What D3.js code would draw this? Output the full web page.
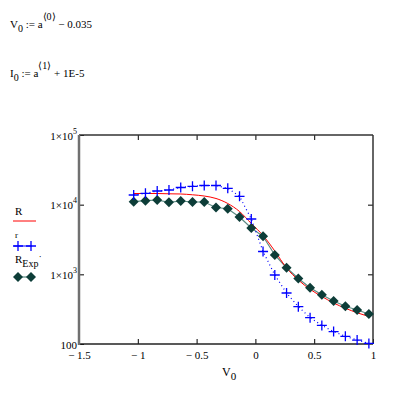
<!DOCTYPE html>
<html>
<head>
<meta charset="utf-8">
<script src="https://cdn.jsdelivr.net/npm/d3@7"></script>
<style>
  body { margin: 0; background: #fff; }
  svg text { font-family: "Liberation Serif", "Times New Roman", serif; fill: #000; }
</style>
</head>
<body>
<div id="chart"></div>
<script>
// V0 = a<0> - 0.035, a from -1 to 1 step 0.1
var vValues = [-1.035, -0.935, -0.835, -0.735, -0.635, -0.535, -0.435, -0.335, -0.235, -0.135,
               -0.035, 0.065, 0.165, 0.265, 0.365, 0.465, 0.565, 0.665, 0.765, 0.865, 0.965];
// model R (red line)
var rModel = [14460, 14460, 14460, 14320, 14230, 13860, 13310, 12270, 10400, 7980,
              5370, 3610, 2163, 1233, 830, 610, 481, 388, 326, 281, 248];
// r (blue crosses)
var rSmall = [13770, 14560, 15710, 16230, 17640, 18350, 18850, 18850, 17180, 13180,
              6230, 2128, 978, 540, 343, 239, 185, 151, 129, 114, 102];
// R_Exp' (diamonds)
var rExp = [11040, 11400, 11670, 10810, 11290, 10920, 10920, 9100, 8750, 6650,
            4625, 3515, 1895, 1245, 871, 643, 510, 414, 348, 308, 270];

var xTicks = [-1.5, -1, -0.5, 0, 0.5, 1];
var xTickLabels = ["\u2212 1.5", "\u2212 1", "\u2212 0.5", "0", "0.5", "1"];
var yTicks = [100, 1000, 10000, 100000];
var yTickLabels = [["100", ""], ["1\u00d710", "3"], ["1\u00d710", "4"], ["1\u00d710", "5"]];

var width = 400, height = 394;
var plot = {left: 79, right: 373, top: 135, bottom: 344};

var svg = d3.select("#chart").append("svg")
  .attr("width", width)
  .attr("height", height);

var x = d3.scaleLinear().domain([-1.5, 1]).range([plot.left, plot.right]);
var y = d3.scaleLog().domain([100, 100000]).range([plot.bottom, plot.top]);

// formulas at top
var f1 = svg.append("text").attr("x", 10).attr("y", 28).style("font-size", "11px");
f1.append("tspan").text("V");
f1.append("tspan").attr("dy", 4).style("font-size", "10px").text("0");
f1.append("tspan").attr("dy", -4).text(" := a");
f1.append("tspan").attr("dy", -8).style("font-size", "10px").text("\u27e80\u27e9");
f1.append("tspan").attr("dy", 8).text(" \u2212 0.035");

var f2 = svg.append("text").attr("x", 10).attr("y", 77).style("font-size", "11px");
f2.append("tspan").text("I");
f2.append("tspan").attr("dy", 4).style("font-size", "10px").text("0");
f2.append("tspan").attr("dy", -4).text(" := a");
f2.append("tspan").attr("dy", -8).style("font-size", "10px").text("\u27e81\u27e9");
f2.append("tspan").attr("dy", 8).text(" + 1E-5");

// axes
var xAxis = d3.axisBottom(x).tickValues(xTicks)
  .tickSizeInner(-5).tickSizeOuter(0).tickPadding(7)
  .tickFormat(function(d, i) { return xTickLabels[i]; });
var gx = svg.append("g")
  .attr("transform", "translate(0," + plot.bottom + ")")
  .call(xAxis);
gx.select(".domain").remove();
gx.selectAll("text").style("font-size", "11px").style("font-family", "Liberation Serif");

var xTop = d3.axisTop(x).tickValues(xTicks.slice(1, -1))
  .tickSizeInner(-5).tickSizeOuter(0).tickFormat("");
var gxt = svg.append("g").attr("transform", "translate(0," + plot.top + ")").call(xTop);
gxt.select(".domain").remove();

var yAxis = d3.axisLeft(y).tickValues(yTicks)
  .tickSizeInner(-5).tickSizeOuter(0).tickPadding(3)
  .tickFormat("");
var gy = svg.append("g").attr("transform", "translate(" + plot.left + ",0)").call(yAxis);
gy.select(".domain").remove();
gy.selectAll(".tick").each(function(d, i) {
  var t = d3.select(this).append("text")
    .attr("x", -2).attr("y", 4)
    .attr("text-anchor", "end")
    .style("font-size", "11px");
  t.append("tspan").text(yTickLabels[i][0]);
  if (yTickLabels[i][1]) t.append("tspan").attr("dy", -6).style("font-size", "8px").text(yTickLabels[i][1]);
});

var yRight = d3.axisRight(y).tickValues(yTicks.slice(1, -1))
  .tickSizeInner(-5).tickSizeOuter(0).tickFormat("");
var gyr = svg.append("g").attr("transform", "translate(" + plot.right + ",0)").call(yRight);
gyr.select(".domain").remove();

// frame
svg.append("line").attr("x1", plot.left).attr("x2", plot.right).attr("y1", plot.top).attr("y2", plot.top)
  .attr("stroke", "#333").attr("stroke-width", 1.5);
svg.append("line").attr("x1", plot.right).attr("x2", plot.right).attr("y1", plot.top).attr("y2", plot.bottom)
  .attr("stroke", "#333").attr("stroke-width", 1.5);
svg.append("line").attr("x1", plot.left).attr("x2", plot.right).attr("y1", plot.bottom).attr("y2", plot.bottom)
  .attr("stroke", "#222").attr("stroke-width", 1.5);
svg.append("line").attr("x1", plot.left).attr("x2", plot.left).attr("y1", plot.top).attr("y2", plot.bottom + 1)
  .attr("stroke", "#707070").attr("stroke-width", 2.5);

// x axis title
var xt = svg.append("text").attr("x", 222).attr("y", 376).style("font-size", "12px");
xt.append("tspan").text("V");
xt.append("tspan").attr("dy", 4).style("font-size", "11px").text("0");

// data series
var idx = d3.range(vValues.length);

var line = function(vals) {
  return d3.line()
    .x(function(i) { return x(vValues[i]); })
    .y(function(i) { return y(vals[i]); });
};

// R_Exp' line + diamonds
svg.append("path").datum(idx)
  .attr("d", line(rExp))
  .attr("fill", "none").attr("stroke", "#5a8a82").attr("stroke-width", 1.2);

// r dotted line
svg.append("path").datum(idx)
  .attr("d", line(rSmall))
  .attr("fill", "none").attr("stroke", "#0000ff").attr("stroke-width", 1.2)
  .attr("stroke-dasharray", "1,3");

// R red curve
svg.append("path").datum(idx)
  .attr("d", line(rModel).curve(d3.curveMonotoneX))
  .attr("fill", "none").attr("stroke", "#ff0000").attr("stroke-width", 1);

var diamond = "M0,-5L5,0L0,5L-5,0Z";
var plus = "M-5,0H5M0,-5V5";

svg.append("g").selectAll("path").data(idx).enter().append("path")
  .attr("d", diamond)
  .attr("transform", function(i) { return "translate(" + x(vValues[i]) + "," + y(rExp[i]) + ")"; })
  .attr("fill", "#0d3d38");

svg.append("g").selectAll("path").data(idx).enter().append("path")
  .attr("d", plus)
  .attr("transform", function(i) { return "translate(" + x(vValues[i]) + "," + y(rSmall[i]) + ")"; })
  .attr("fill", "none").attr("stroke", "#0000ff").attr("stroke-width", 1.3);

// legend
var lg = svg.append("g");
lg.append("text").attr("x", 15).attr("y", 215).style("font-size", "11px").text("R");
lg.append("line").attr("x1", 13).attr("x2", 36).attr("y1", 221).attr("y2", 221)
  .attr("stroke", "#ff0000").attr("stroke-width", 1);
lg.append("text").attr("x", 15).attr("y", 238).style("font-size", "9px").text("r");
lg.append("line").attr("x1", 14).attr("x2", 32).attr("y1", 246).attr("y2", 246)
  .attr("stroke", "#0000ff").attr("stroke-width", 1);
[18, 31].forEach(function(px) {
  lg.append("path").attr("d", plus).attr("transform", "translate(" + px + ",246)")
    .attr("fill", "none").attr("stroke", "#0000ff").attr("stroke-width", 1.3);
});
var lt = lg.append("text").attr("x", 15).attr("y", 263).style("font-size", "11px");
lt.append("tspan").text("R");
lt.append("tspan").attr("dy", 4).style("font-size", "10px").text("Exp");
lt.append("tspan").attr("dy", -4).style("font-size", "10px").text("\u02d9");
lg.append("line").attr("x1", 18).attr("x2", 31).attr("y1", 277).attr("y2", 277)
  .attr("stroke", "#5a8a82").attr("stroke-width", 1.2);
[18, 31].forEach(function(px) {
  lg.append("path").attr("d", diamond).attr("transform", "translate(" + px + ",277)")
    .attr("fill", "#0d3d38");
});
</script>
</body>
</html>
